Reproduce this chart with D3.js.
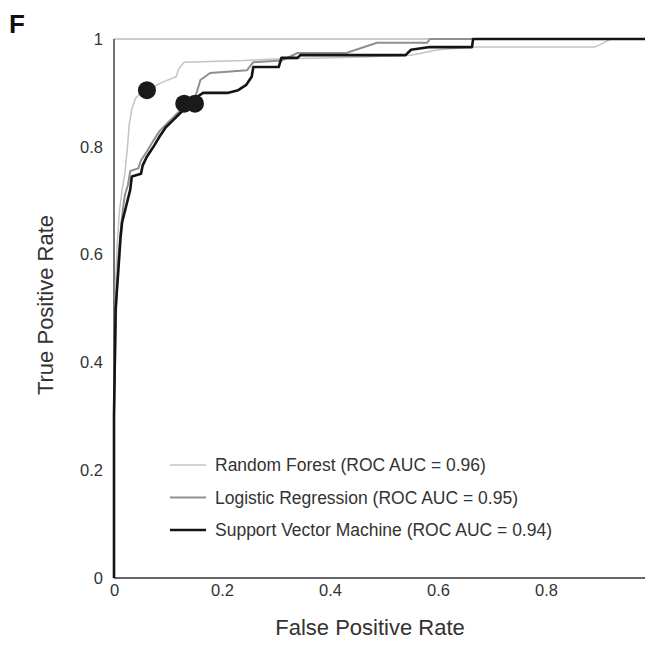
<!DOCTYPE html>
<html>
<head>
<meta charset="utf-8">
<script src="https://cdn.jsdelivr.net/npm/d3@7"></script>
<style>
  body { margin: 0; background: #fff; }
  text { font-family: "Liberation Sans", Arial, sans-serif; fill: #222; }
</style>
</head>
<body>
<script>
// chart data
var models = ['Random Forest', 'Logistic Regression', 'Support Vector Machine'],
	aucs = [0.96, 0.95, 0.94];

var rfFpr = [0, 0, 0.003, 0.006, 0.01, 0.015, 0.02, 0.025, 0.028, 0.033, 0.04, 0.055, 0.07, 0.09, 0.115, 0.12, 0.13, 0.24, 0.3, 0.45, 0.55, 0.6, 0.665, 0.89, 0.905, 0.92, 1],
	rfTpr = [0, 0.35, 0.55, 0.62, 0.68, 0.72, 0.75, 0.8, 0.84, 0.87, 0.89, 0.905, 0.91, 0.92, 0.93, 0.945, 0.957, 0.96, 0.963, 0.966, 0.97, 0.98, 0.985, 0.985, 0.992, 1, 1];

var lrFpr = [0, 0, 0.004, 0.008, 0.012, 0.016, 0.02, 0.026, 0.03, 0.045, 0.05, 0.06, 0.072, 0.085, 0.1, 0.115, 0.13, 0.15, 0.16, 0.178, 0.246, 0.258, 0.31, 0.34, 0.43, 0.487, 0.58, 0.585, 1],
	lrTpr = [0, 0.3, 0.5, 0.59, 0.64, 0.68, 0.71, 0.73, 0.755, 0.76, 0.775, 0.79, 0.81, 0.83, 0.845, 0.86, 0.875, 0.89, 0.924, 0.937, 0.942, 0.957, 0.96, 0.974, 0.974, 0.993, 0.993, 1, 1];

var svmFpr = [0, 0, 0.003, 0.008, 0.012, 0.015, 0.02, 0.025, 0.03, 0.033, 0.05, 0.053, 0.06, 0.073, 0.085, 0.095, 0.11, 0.12, 0.135, 0.15, 0.165, 0.21, 0.23, 0.245, 0.255, 0.258, 0.305, 0.31, 0.34, 0.345, 0.54, 0.55, 0.585, 0.663, 0.665, 1],
	svmTpr = [0, 0.3, 0.5, 0.57, 0.63, 0.66, 0.68, 0.7, 0.72, 0.745, 0.75, 0.765, 0.78, 0.8, 0.82, 0.835, 0.85, 0.86, 0.875, 0.89, 0.9, 0.9, 0.905, 0.915, 0.93, 0.948, 0.948, 0.965, 0.965, 0.97, 0.97, 0.98, 0.985, 0.985, 1, 1];

// operating points
var opFpr = [0.061, 0.13, 0.15],
	opTpr = [0.905, 0.88, 0.88];

var xTicks = [0, 0.2, 0.4, 0.6, 0.8],
	yTicks = [0, 0.2, 0.4, 0.6, 0.8, 1];

// layout
var width = 645, height = 645,
	plotLeft = 114, plotTop = 39, plotSize = 540;

var colors = ['#c4c4c4', '#8f8f8f', '#141414'],
	widths = [1.5, 2, 2.6];

var svg = d3.select('body').append('svg')
	.attr('width', width)
	.attr('height', height);

var x = d3.scaleLinear().domain([0, 1]).range([plotLeft, plotLeft + plotSize]),
	y = d3.scaleLinear().domain([0, 1]).range([plotTop + plotSize - 1, plotTop]);

var fmt = function(d) { return d === 0 ? '0' : d === 1 ? '1' : d.toFixed(1); };

// panel letter
svg.append('text')
	.attr('x', 9)
	.attr('y', 33)
	.style('font-size', '26px')
	.style('font-weight', 'bold')
	.style('fill', '#111')
	.text('F');

// frame
svg.append('line')
	.attr('x1', x(0)).attr('x2', x(1))
	.attr('y1', y(1)).attr('y2', y(1))
	.style('stroke', '#9a9a9a')
	.style('stroke-width', 1);
svg.append('line')
	.attr('x1', x(0)).attr('x2', x(0))
	.attr('y1', y(0)).attr('y2', y(1))
	.style('stroke', '#444')
	.style('stroke-width', 1.5);
svg.append('line')
	.attr('x1', x(0)).attr('x2', x(1))
	.attr('y1', y(0)).attr('y2', y(0))
	.style('stroke', '#333')
	.style('stroke-width', 1.5);

// axes
var yAxis = svg.append('g')
	.attr('transform', 'translate(' + x(0) + ',0)')
	.call(d3.axisLeft(y).tickValues(yTicks).tickFormat(fmt).tickSize(0).tickPadding(11));
var xAxis = svg.append('g')
	.attr('transform', 'translate(0,' + y(0) + ')')
	.call(d3.axisBottom(x).tickValues(xTicks).tickFormat(fmt).tickSize(0).tickPadding(6));
[xAxis, yAxis].forEach(function(g) {
	g.select('.domain').remove();
	g.selectAll('text').style('font-size', '16.5px').style('fill', '#333')
		.style('font-family', '"Liberation Sans", Arial, sans-serif');
});

// axis titles
svg.append('text')
	.attr('x', 370)
	.attr('y', 635)
	.attr('text-anchor', 'middle')
	.style('font-size', '22px')
	.style('fill', '#333')
	.text('False Positive Rate');
svg.append('text')
	.attr('transform', 'translate(53,' + 305 + ') rotate(-90)')
	.attr('text-anchor', 'middle')
	.style('font-size', '22px')
	.style('fill', '#333')
	.text('True Positive Rate');

// curves
var curves = [[rfFpr, rfTpr], [lrFpr, lrTpr], [svmFpr, svmTpr]];
var line = d3.line()
	.x(function(d) { return x(d[0]); })
	.y(function(d) { return y(d[1]); });

curves.forEach(function(c, i) {
	svg.append('path')
		.datum(d3.zip(c[0], c[1]))
		.attr('d', line)
		.style('fill', 'none')
		.style('stroke', colors[i])
		.style('stroke-width', widths[i])
		.style('stroke-linejoin', 'round');
});

// operating points
svg.selectAll('.op')
	.data(d3.zip(opFpr, opTpr))
  .enter().append('circle')
	.attr('class', 'op')
	.attr('cx', function(d) { return x(d[0]); })
	.attr('cy', function(d) { return y(d[1]); })
	.attr('r', 9)
	.style('fill', '#1a1a1a');

// legend
var legend = svg.append('g')
	.attr('transform', 'translate(170,465)');
models.forEach(function(m, i) {
	var row = legend.append('g').attr('transform', 'translate(0,' + (i * 32.5) + ')');
	row.append('line')
		.attr('x1', 0).attr('x2', 36)
		.style('stroke', colors[i])
		.style('stroke-width', widths[i]);
	row.append('text')
		.attr('x', 45)
		.attr('dy', '0.35em')
		.style('font-size', '17.5px')
		.style('fill', '#333')
		.text(m + ' (ROC AUC = ' + aucs[i].toFixed(2) + ')');
});
</script>
</body>
</html>
